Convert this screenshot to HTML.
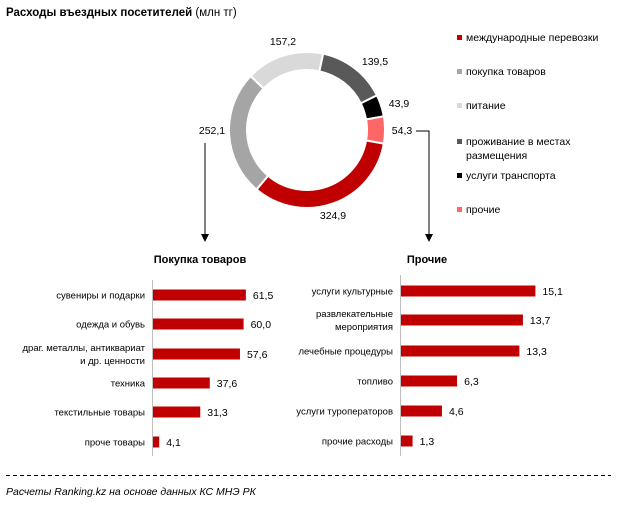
<!DOCTYPE html>
<html><head><meta charset="utf-8"><style>
body{margin:0;background:#fff;}
svg{display:block;font-family:"Liberation Sans",sans-serif;}
</style></head><body>
<svg id="s" width="617" height="508" viewBox="0 0 617 508" xmlns="http://www.w3.org/2000/svg">
<text x="6" y="16" font-size="11.5" font-weight="bold" fill="#000">Расходы въездных посетителей <tspan font-weight="normal">(млн тг)</tspan></text>
<g id="donut"></g>
<g font-size="10.5" fill="#000">
<text x="283" y="45" text-anchor="middle">157,2</text>
<text x="375" y="65" text-anchor="middle">139,5</text>
<text x="399" y="107" text-anchor="middle">43,9</text>
<text x="402" y="134" text-anchor="middle">54,3</text>
<text x="212" y="134" text-anchor="middle">252,1</text>
<text x="333" y="219" text-anchor="middle">324,9</text>
</g>
<g stroke="#000" stroke-width="1" fill="none">
<path d="M205 143 V234"/>
<path d="M416 131 H429 V234"/>
</g>
<path d="M201 234 L209 234 L205 242Z" fill="#000"/>
<path d="M425 234 L433 234 L429 242Z" fill="#000"/>
<g font-size="10.5">
<rect x="457" y="35" width="5" height="5" fill="#c00000"/><text x="466" y="41">международные перевозки</text>
<rect x="457" y="69" width="5" height="5" fill="#a5a5a5"/><text x="466" y="75">покупка товаров</text>
<rect x="457" y="103" width="5" height="5" fill="#d9d9d9"/><text x="466" y="109">питание</text>
<rect x="457" y="139" width="5" height="5" fill="#595959"/><text x="466" y="145">проживание в местах</text><text x="466" y="159">размещения</text>
<rect x="457" y="173" width="5" height="5" fill="#000"/><text x="466" y="179">услуги транспорта</text>
<rect x="457" y="207" width="5" height="5" fill="#ff6666"/><text x="466" y="213">прочие</text>
</g>
<text x="200" y="263" font-size="11" font-weight="bold" text-anchor="middle">Покупка товаров</text>
<text x="427" y="263" font-size="11" font-weight="bold" text-anchor="middle">Прочие</text>
<line x1="152.5" y1="280" x2="152.5" y2="456" stroke="#bfbfbf"/>
<line x1="400.5" y1="275" x2="400.5" y2="456" stroke="#bfbfbf"/>
<g id="bars" font-size="9.5"></g>
<line x1="6" y1="475.5" x2="611" y2="475.5" stroke="#000" stroke-dasharray="4,3"/>
<text x="6" y="495" font-size="10.5" font-style="italic">Расчеты Ranking.kz на основе данных  КС МНЭ РК</text>
</svg>
<script>
var ns="http://www.w3.org/2000/svg";
var cx=307,cy=130,R=78,r=60;
var data=[[324.9,"#c00000"],[252.1,"#a5a5a5"],[157.2,"#d9d9d9"],[139.5,"#595959"],[43.9,"#000"],[54.3,"#ff6666"]];
var tot=0;data.forEach(d=>tot+=d[0]);
var a=100,g=document.getElementById("donut");
function pt(rad,deg){var t=deg*Math.PI/180;return [cx+rad*Math.sin(t),cy-rad*Math.cos(t)];}
data.forEach(d=>{var b=a+d[0]/tot*360,l=(b-a)>180?1:0;
var p1=pt(R,a),p2=pt(R,b),p3=pt(r,b),p4=pt(r,a);
var p=document.createElementNS(ns,"path");
p.setAttribute("d","M"+p1+"A"+R+","+R+" 0 "+l+" 1 "+p2+"L"+p3+"A"+r+","+r+" 0 "+l+" 0 "+p4+"Z");
p.setAttribute("fill",d[1]);p.setAttribute("stroke","#fff");p.setAttribute("stroke-width","2");
g.appendChild(p);a=b;});
var bg=document.getElementById("bars");
function bar(x0,sc,items){items.forEach(it=>{var y=it[2],w=it[1]*sc;
var rc=document.createElementNS(ns,"rect");rc.setAttribute("x",x0+1);rc.setAttribute("y",y-5.5);rc.setAttribute("width",w);rc.setAttribute("height",11);rc.setAttribute("fill","#c00000");bg.appendChild(rc);
var v=document.createElementNS(ns,"text");v.setAttribute("x",x0+w+8);v.setAttribute("y",y+4);v.setAttribute("font-size","10.5");v.textContent=it[1].toFixed(1).replace(".",",");bg.appendChild(v);
var ls=it[0].split("|");ls.forEach((s,i)=>{var t=document.createElementNS(ns,"text");t.setAttribute("x",x0-7);t.setAttribute("y",y+3.5+(i-(ls.length-1)/2)*13);t.setAttribute("text-anchor","end");t.textContent=s;bg.appendChild(t);});});}
bar(152,1.51,[["сувенирны и подарки".replace("сувенирны","сувениры"),61.5,295],["одежда и обувь",60.0,324],["драг. металлы, антиквариат|и др. ценности",57.6,354],["техника",37.6,383],["текстильные товары",31.3,412],["проче товары",4.1,442]]);
bar(400,8.9,[["услуги культурные",15.1,291],["развлекательные|мероприятия",13.7,320],["лечебные процедуры",13.3,351],["топливо",6.3,381],["услуги туроператоров",4.6,411],["прочие расходы",1.3,441]]);
</script>
</body></html>
